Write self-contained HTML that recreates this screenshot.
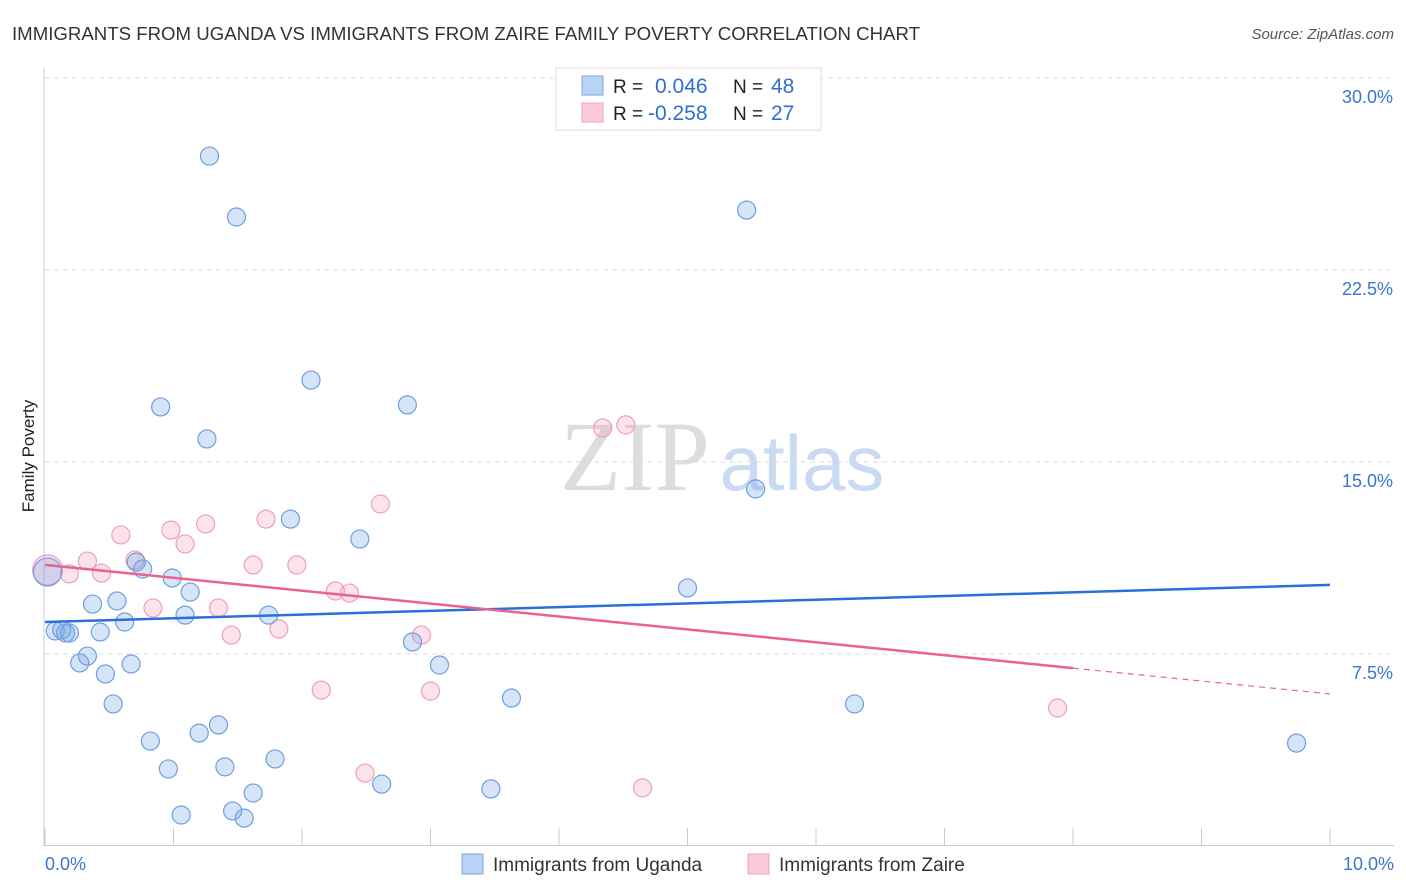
<!DOCTYPE html>
<html><head><meta charset="utf-8"><style>
body{margin:0;background:#fff;}
svg{display:block;font-family:"Liberation Sans",sans-serif;}
</style></head><body>
<svg id="chart" width="1406" height="892">
<text x="12" y="40" font-size="18" fill="#333" textLength="908" lengthAdjust="spacingAndGlyphs">IMMIGRANTS FROM UGANDA VS IMMIGRANTS FROM ZAIRE FAMILY POVERTY CORRELATION CHART</text>
<text x="1394" y="39" font-size="15" fill="#555" font-style="italic" text-anchor="end">Source: ZipAtlas.com</text>
<text transform="translate(34,456) rotate(-90)" font-size="17" fill="#222" text-anchor="middle">Family Poverty</text>
<g>
<text x="635" y="490" font-family="Liberation Serif,serif" font-size="100" fill="#ddd" text-anchor="middle">ZIP</text>
<text x="802" y="490" font-size="78" fill="#c9daf2" text-anchor="middle">atlas</text>
</g>
<g id="grid"></g>
<g id="axes"></g>
<g id="marks"></g>
<g>
<rect x="556" y="68" width="265" height="62" fill="#fff" stroke="#ddd"/>
<rect x="582" y="76" width="21" height="19" fill="#b9d3f5" stroke="#7aa7e0"/>
<rect x="582" y="103" width="21" height="19" fill="#fccbd9" stroke="#eea0b8"/>
<text x="613" y="93" font-size="19" fill="#222">R =</text>
<text x="655" y="93" font-size="21" fill="#2f6fd0">0.046</text>
<text x="733" y="93" font-size="19" fill="#222">N =</text>
<text x="771" y="93" font-size="21" fill="#2f6fd0">48</text>
<text x="613" y="120" font-size="19" fill="#222">R =</text>
<text x="648" y="120" font-size="21" fill="#2f6fd0">-0.258</text>
<text x="733" y="120" font-size="19" fill="#222">N =</text>
<text x="771" y="120" font-size="21" fill="#2f6fd0">27</text>
</g>
<g>
<rect x="462" y="854" width="21" height="20" fill="#b9d3f5" stroke="#7aa7e0"/>
<text x="493" y="871" font-size="19" fill="#333">Immigrants from Uganda</text>
<rect x="748" y="854" width="21" height="20" fill="#fccbd9" stroke="#eea0b8"/>
<text x="779" y="871" font-size="19" fill="#333">Immigrants from Zaire</text>
</g>
</svg>
<script>
const ugX=[1.28,1.49,5.46,2.07,0.90,2.82,1.26,5.53,1.91,2.45,0.76,0.71,0.99,1.13,5.00,0.37,0.56,1.09,1.74,0.62,0.08,0.13,0.19,0.43,2.86,0.33,0.27,0.67,3.07,0.47,3.63,0.53,6.30,1.35,0.82,1.20,9.74,1.79,1.40,0.96,2.62,3.47,1.62,1.06,1.46,1.55,0.02,0.16];
const ugY=[26.95,24.57,24.84,18.20,17.15,17.23,15.90,13.95,12.77,11.99,10.82,11.09,10.47,9.92,10.08,9.45,9.57,9.02,9.02,8.75,8.40,8.44,8.32,8.36,7.97,7.42,7.15,7.11,7.07,6.72,5.78,5.55,5.55,4.73,4.10,4.41,4.02,3.40,3.09,3.01,2.42,2.23,2.07,1.21,1.37,1.09,10.70,8.32];
const zaX=[0.02,0.19,0.33,0.44,0.59,0.70,0.98,1.09,1.25,0.84,1.35,1.45,1.62,1.72,1.96,1.82,2.26,2.37,2.61,2.15,3.00,2.93,4.34,4.52,2.49,4.65,7.88];
const zaY=[10.78,10.63,11.13,10.66,12.15,11.17,12.34,11.80,12.58,9.30,9.30,8.24,10.98,12.77,10.98,8.48,9.96,9.88,13.36,6.09,6.05,8.24,16.33,16.45,2.85,2.27,5.39];
const yTicks=[7.5,15,22.5,30];
const yTickLabels=["7.5%","15.0%","22.5%","30.0%"];
const xTicks=[0,1,2,3,4,5,6,7,8,9,10];
const ugTrend=[8.75,10.20];
const zaTrend=[10.98,5.94];
const zaSolidEnd=8;
const NS="http://www.w3.org/2000/svg";
const sx=v=>45+v*128.5, sy=v=>846-v*25.6;
function mk(tag,attrs,parent){const e=document.createElementNS(NS,tag);for(const k in attrs)e.setAttribute(k,attrs[k]);document.getElementById(parent).appendChild(e);return e;}
yTicks.forEach((t,i)=>{
 const g=mk('line',{x1:45,x2:1394,y1:sy(t),y2:sy(t),stroke:'#ddd','stroke-dasharray':'5,4'},'grid');
 
 
 const l=mk('text',{x:1393,y:sy(t)+25,'font-size':18,fill:'#3a75d0','text-anchor':'end'},'grid');
 l.textContent=yTickLabels[i];
 
 
});
const ya=mk('line',{x1:44,x2:44,y1:68,y2:846,stroke:'#ccc'},'axes');


const xa=mk('line',{x1:44,x2:1394,y1:845.5,y2:845.5,stroke:'#ccc'},'axes');


xTicks.forEach(t=>{const e=mk('line',{x1:sx(t),x2:sx(t),y1:828,y2:846,stroke:'#ccc'},'axes');
 
 });
[[0,'0.0%','start',45],[10,'10.0%','end',1394]].forEach(a=>{const e=mk('text',{x:a[3],y:870,'font-size':18,fill:'#3a75d0','text-anchor':a[2]},'axes');e.textContent=a[1];
 
 });
zaX.forEach((x,i)=>{const c=mk('circle',{cx:sx(x),cy:sy(zaY[i]),r:i==0?15:9,fill:'rgba(246,160,188,0.3)',stroke:'#eea0b8','stroke-width':1.2},'marks');
 
 });
ugX.forEach((x,i)=>{const c=mk('circle',{cx:sx(x),cy:sy(ugY[i]),r:i==46?14:9,fill:'rgba(120,165,230,0.3)',stroke:'#6d9fe0','stroke-width':1.2},'marks');
 
 });
const bl=mk('line',{x1:sx(0),y1:sy(ugTrend[0]),x2:sx(10),y2:sy(ugTrend[1]),stroke:'#2a6fd6','stroke-width':2.5},'marks');


const zm=zaTrend[0]+(zaTrend[1]-zaTrend[0])*zaSolidEnd/10;
const pl=mk('line',{x1:sx(0),y1:sy(zaTrend[0]),x2:sx(zaSolidEnd),y2:sy(zm),stroke:'#e8648f','stroke-width':2.5},'marks');


const pd=mk('line',{x1:sx(zaSolidEnd),y1:sy(zm),x2:sx(10),y2:sy(zaTrend[1]),stroke:'#e8648f','stroke-width':1.2,'stroke-dasharray':'6,5'},'marks');


</script>
</body></html>
